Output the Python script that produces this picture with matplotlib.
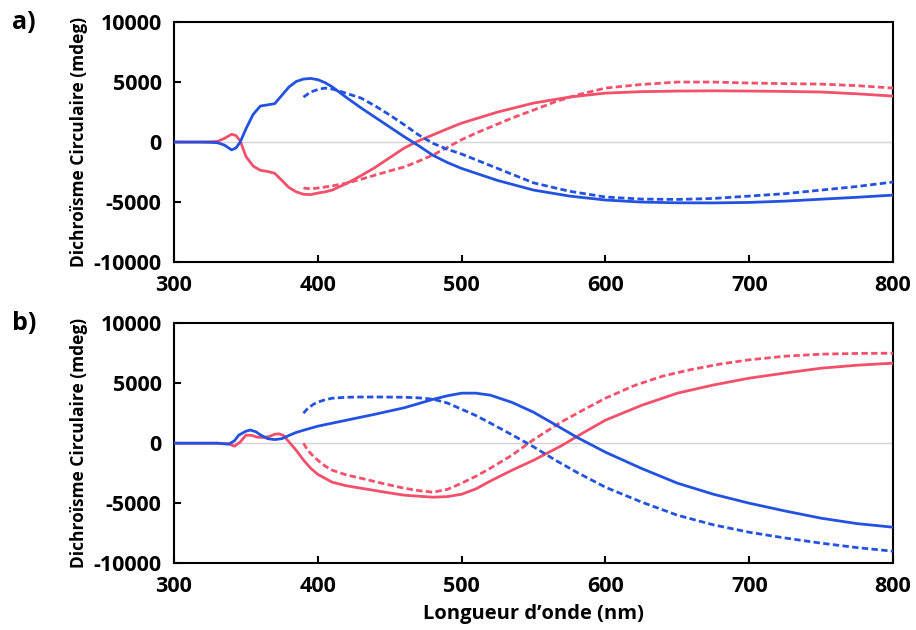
import matplotlib
matplotlib.use('Agg')
import matplotlib.pyplot as plt

plt.rcParams['font.family'] = ['Open Sans', 'DejaVu Sans']
plt.rcParams['font.weight'] = 'bold'
plt.rcParams['axes.unicode_minus'] = False

BLUE = '#2352e0'
RED = '#f2506b'

# panel a) - solid curves
wl_a = [300, 320, 330, 335, 340, 343, 346, 350, 355, 360, 365, 370, 375, 380, 385, 390, 395,
        400, 405, 410, 420, 430, 440, 450, 460, 470, 480, 490, 500, 525, 550, 575, 600,
        625, 650, 675, 700, 725, 750, 775, 800]
blue_a = [0, 0, -50, -250, -650, -500, 0, 1100, 2300, 3000, 3100, 3200, 3900, 4600, 5050, 5250, 5300,
          5200, 4950, 4600, 3700, 2850, 2050, 1250, 450, -300, -1100, -1700, -2200, -3200, -4000, -4500, -4830,
          -5000, -5060, -5070, -5030, -4920, -4760, -4600, -4420]
red_a = [0, 0, 50, 300, 650, 550, 100, -1200, -2000, -2350, -2450, -2600, -3200, -3800, -4150, -4350, -4380,
         -4250, -4150, -4000, -3450, -2800, -2100, -1300, -500, 100, 600, 1100, 1580, 2500, 3250, 3750, 4080,
         4200, 4250, 4270, 4250, 4220, 4170, 4020, 3830]

# panel a) - dashed curves
wl_a_blue_d = [390, 395, 400, 405, 410, 415, 420, 430, 440, 450, 460, 470, 480, 490, 500, 525,
               550, 575, 600, 625, 650, 675, 700, 725, 750, 775, 800]
blue_a_d = [3750, 4170, 4380, 4500, 4420, 4250, 4050, 3670, 3000, 2250, 1450, 600, -100, -600, -1000, -2200,
            -3400, -4100, -4580, -4750, -4780, -4700, -4500, -4300, -4000, -3700, -3330]
wl_a_red_d = [390, 395, 400, 410, 420, 430, 440, 450, 460, 470, 480, 490, 500, 510, 520, 535,
              550, 565, 580, 600, 625, 650, 675, 700, 725, 750, 775, 800]
red_a_d = [-3830, -3900, -3830, -3650, -3420, -3100, -2750, -2400, -2080, -1600, -1080, -450, 200, 750, 1250, 2000,
           2670, 3350, 3920, 4500, 4800, 5000, 5000, 4920, 4870, 4830, 4700, 4500]

# panel b) - solid curves
wl_b_blue = [300, 320, 330, 335, 338, 342, 345, 350, 353, 357, 360, 365, 370, 375, 380, 385, 390,
             400, 420, 440, 460, 480, 490, 500, 510, 520, 535, 550, 565, 580, 600, 625, 650, 675,
             700, 725, 750, 775, 800]
blue_b = [0, 0, 0, -50, -80, 200, 670, 1000, 1100, 950, 700, 380, 300, 380, 650, 900, 1080,
          1420, 1920, 2420, 2950, 3650, 3950, 4170, 4170, 4000, 3400, 2580, 1550, 500, -750, -2100, -3330, -4250,
          -5000, -5650, -6250, -6700, -7000]
wl_b_red = [300, 330, 338, 342, 346, 350, 354, 358, 362, 366, 370, 373, 376, 380, 385, 390, 395,
            400, 410, 420, 430, 445, 460, 480, 490, 500, 510, 520, 535, 550, 570, 585, 600, 625,
            650, 675, 700, 725, 750, 775, 800]
red_b = [0, 0, -50, -250, 100, 670, 650, 500, 480, 550, 750, 780, 650, 100, -600, -1400, -2080,
         -2600, -3250, -3550, -3750, -4050, -4330, -4500, -4450, -4250, -3800, -3150, -2250, -1420, -170, 900, 1920, 3150,
         4170, 4850, 5420, 5850, 6250, 6500, 6670]

# panel b) - dashed curves
wl_b_blue_d = [390, 393, 397, 400, 405, 410, 420, 430, 445, 460, 470, 480, 490, 500, 510, 520, 535,
               550, 565, 580, 600, 625, 650, 675, 700, 725, 750, 775, 800]
blue_b_d = [2500, 2900, 3250, 3420, 3620, 3750, 3830, 3850, 3850, 3830, 3780, 3670, 3350, 2830, 2300, 1670, 700,
            -300, -1400, -2420, -3670, -4900, -6000, -6800, -7420, -7900, -8330, -8700, -9000]
wl_b_red_d = [390, 393, 397, 400, 405, 410, 420, 430, 445, 460, 470, 480, 490, 500, 510, 520, 535,
              550, 569, 585, 600, 620, 640, 660, 680, 700, 725, 750, 775, 800]
red_b_d = [0, -600, -1100, -1420, -1900, -2250, -2650, -2920, -3350, -3750, -3950, -4080, -3850, -3330, -2750, -2080, -1000,
           300, 1750, 2800, 3750, 4800, 5600, 6150, 6600, 6950, 7250, 7420, 7480, 7500]

x_ticks = [300, 400, 500, 600, 700, 800]
y_ticks = [-10000, -5000, 0, 5000, 10000]

fig = plt.figure(figsize=(9.16, 6.3), dpi=100)
ax_a = fig.add_axes([0.190, 0.584, 0.785, 0.381])
ax_b = fig.add_axes([0.190, 0.106, 0.785, 0.381])

dash = (2.3, 1.2)
panels = [
    (ax_a, 'a)', (wl_a, blue_a), (wl_a, red_a), (wl_a_blue_d, blue_a_d), (wl_a_red_d, red_a_d)),
    (ax_b, 'b)', (wl_b_blue, blue_b), (wl_b_red, red_b), (wl_b_blue_d, blue_b_d), (wl_b_red_d, red_b_d)),
]

for ax, tag, bs, rs, bd, rd in panels:
    ax.axhline(0, color='#d4d4d4', lw=1.0, zorder=1)
    ax.plot(*rs, color=RED, lw=2.0, zorder=3)
    ax.plot(*rd, color=RED, lw=2.0, dashes=dash, zorder=3)
    ax.plot(*bs, color=BLUE, lw=2.0, zorder=4)
    ax.plot(*bd, color=BLUE, lw=2.0, dashes=dash, zorder=4)

    ax.set_xlim(300, 800)
    ax.set_ylim(-10000, 10000)
    ax.set_xticks(x_ticks)
    ax.set_yticks(y_ticks)
    ax.tick_params(direction='in', length=5, width=1.5, labelsize=15.5, pad=9)
    for lab in ax.get_xticklabels() + ax.get_yticklabels():
        lab.set_fontweight('bold')
    for sp in ax.spines.values():
        sp.set_linewidth(1.5)
    ax.set_ylabel('Dichroïsme Circulaire (mdeg)', fontsize=12.5, fontweight='bold', labelpad=4)
    ax.text(-0.226, 1.0, tag, transform=ax.transAxes, fontsize=18, fontweight='bold',
            ha='left', va='center')

ax_b.set_xlabel('Longueur d\u2019onde (nm)', fontsize=14.5, fontweight='bold', labelpad=5)

fig.savefig('out.png', dpi=100, facecolor='white')
